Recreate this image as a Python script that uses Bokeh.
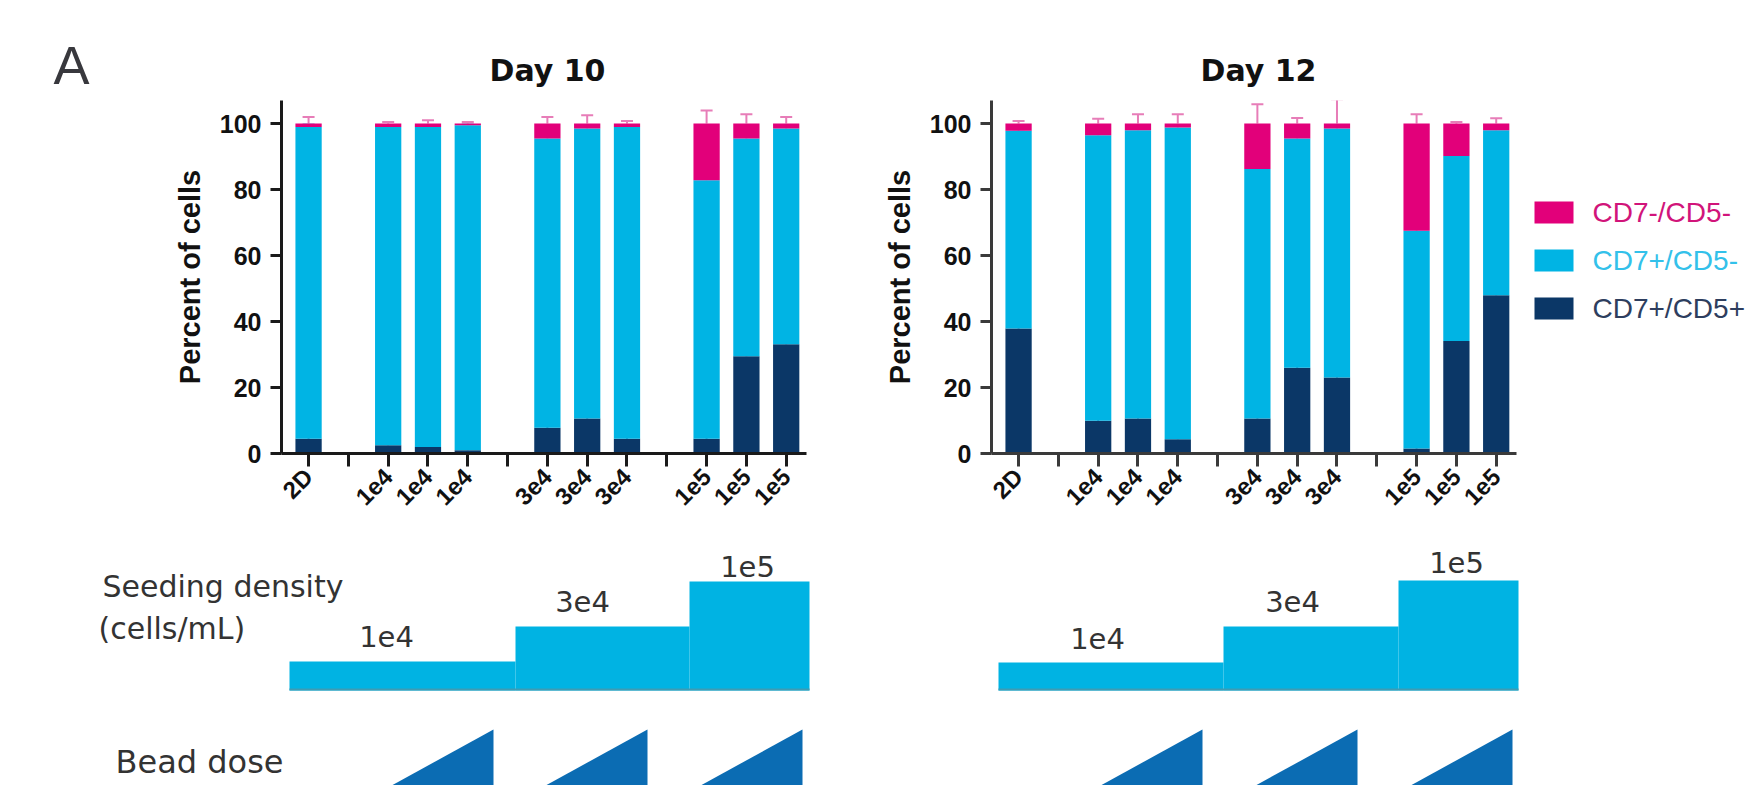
import math
from bokeh.plotting import figure
from bokeh.models import Range1d, FixedTicker, ColumnDataSource, Whisker, TeeHead
from bokeh.layouts import row, column
from bokeh.embed import file_html
from bokeh.resources import INLINE
from bokeh.core.properties import value

# ---------------- data ----------------
tick_labels = ["2D", "", "1e4", "1e4", "1e4", "", "3e4", "3e4", "3e4", "", "1e5", "1e5", "1e5"]
series_names = ["CD7-/CD5-", "CD7+/CD5-", "CD7+/CD5+"]   # legend order (top to bottom)
panel_titles = ["Day 10", "Day 12"]

# Day 10 (percent of cells) for the 10 conditions
d10_cd7p_cd5p = [4.5, 2.5, 2.0, 1.0, 7.8, 10.6, 4.5, 4.5, 29.5, 33.1]
d10_cd7p_cd5n = [94.5, 96.5, 97.0, 98.5, 87.7, 87.9, 94.5, 78.3, 66.0, 65.4]
d10_cd7n_cd5n = [1.0, 1.0, 1.0, 0.5, 4.5, 1.5, 1.0, 17.2, 4.5, 1.5]
d10_sd_cd7p_cd5p = [3.1, 2.0, 1.2, 0.5, 2.2, 3.0, 1.5, 0.8, 3.3, 2.9]
d10_sd_cd7p_cd5n = [0.8, 0.5, 0.5, 0.3, 1.0, 0.8, 0.5, 5.0, 1.5, 0.8]
d10_sd_cd7n_cd5n = [2.0, 0.5, 1.0, 0.5, 2.0, 2.5, 0.8, 4.0, 2.8, 2.0]

# Day 12
d12_cd7p_cd5p = [37.9, 9.9, 10.6, 4.3, 10.6, 26.0, 23.0, 1.5, 34.1, 48.0]
d12_cd7p_cd5n = [59.9, 86.6, 87.4, 94.5, 75.6, 69.5, 75.5, 66.0, 56.1, 50.0]
d12_cd7n_cd5n = [2.2, 3.5, 2.0, 1.2, 13.8, 4.5, 1.5, 32.5, 9.8, 2.0]
d12_sd_cd7p_cd5p = [0.5, 3.0, 4.1, 3.4, 1.0, 5.9, 8.3, 1.8, 4.4, 0.5]
d12_sd_cd7p_cd5n = [0.5, 1.0, 0.5, 0.5, 8.2, 1.0, 0.5, 4.8, 6.1, 0.5]
d12_sd_cd7n_cd5n = [0.8, 1.5, 2.8, 2.8, 5.9, 1.7, 7.4, 2.8, 0.5, 1.6]

seeding_labels = ["1e4", "3e4", "1e5"]

# ---------------- styles ----------------
PINK = "#E2007A"
CYAN = "#00B4E4"
NAVY = "#0B3767"
WH_PINK = "#E77DB8"
WH_CYAN = "#8DD6EE"
WH_NAVY = "#3C63A3"
STEP_CYAN = "#00B3E3"
TRI_BLUE = "#0B6CB3"
TEXT_GREY = "#333333"
LEGEND_TEXT = ["#D1147A", "#33C1EA", "#2E3E5E"]

TOP_STRIP = 100         # height of the strip holding the panel letter and titles
ROW_H = 440             # height of the chart row
FRAME_TOP = 100         # page y of the chart frames
FRAME_BOTTOM = 453
FRAME_W = 525
B_TOP = FRAME_TOP - TOP_STRIP
B_BOTTOM = TOP_STRIP + ROW_H - FRAME_BOTTOM
Y_MAX = 107.0

bar_slots = [i for i, t in enumerate(tick_labels) if t]


def blank(width, height, xr, yr, **kw):
    p = figure(width=width, height=height, x_range=Range1d(*xr), y_range=Range1d(*yr),
               toolbar_location=None, output_backend="svg", x_axis_type=None, y_axis_type=None,
               title_location=None, **kw)
    p.outline_line_color = None
    return p


def make_panel(navy, cyan, pink, sd_navy, sd_cyan, sd_pink, width, left, axis_color):
    p = figure(width=width, height=ROW_H, x_range=Range1d(-0.68, 12.51), y_range=Range1d(0, Y_MAX),
               toolbar_location=None, output_backend="svg", title_location=None,
               min_border_left=left, min_border_right=width - left - FRAME_W,
               min_border_top=B_TOP, min_border_bottom=B_BOTTOM)
    top1 = list(navy)
    top2 = [a + b for a, b in zip(navy, cyan)]
    top3 = [a + b for a, b in zip(top2, pink)]
    src = ColumnDataSource(dict(x=bar_slots, b0=[0] * len(navy), t1=top1, t2=top2, t3=top3))
    bw = 0.66
    p.vbar(x="x", bottom="b0", top="t1", width=bw, fill_color=NAVY, line_color=None, source=src)
    p.vbar(x="x", bottom="t1", top="t2", width=bw, fill_color=CYAN, line_color=None, source=src)
    p.vbar(x="x", bottom="t2", top="t3", width=bw, fill_color=PINK, line_color=None, source=src)

    for tops, sds, col in ((top1, sd_navy, WH_NAVY), (top2, sd_cyan, WH_CYAN), (top3, sd_pink, WH_PINK)):
        ws = ColumnDataSource(dict(x=bar_slots, lo=tops, hi=[t + s for t, s in zip(tops, sds)]))
        w = Whisker(source=ws, base="x", lower="lo", upper="hi", dimension="height",
                    line_color=col, line_width=2, lower_head=None,
                    upper_head=TeeHead(size=12, line_color=col, line_width=2))
        p.add_layout(w)

    p.xgrid.visible = False
    p.ygrid.visible = False
    p.outline_line_color = None

    for ax in (p.xaxis[0], p.yaxis[0]):
        ax.axis_line_width = 3
        ax.axis_line_color = axis_color
        ax.major_tick_line_width = 3
        ax.major_tick_line_color = axis_color
        ax.major_tick_in = 0
        ax.minor_tick_line_color = None
        ax.major_label_text_font = "Liberation Sans"
        ax.major_label_text_font_style = "bold"
        ax.major_label_text_color = "#111111"

    p.xaxis.ticker = FixedTicker(ticks=list(range(len(tick_labels))))
    p.xaxis.major_label_overrides = {i: t for i, t in enumerate(tick_labels)}
    p.xaxis.major_label_orientation = math.pi / 4
    p.xaxis.major_tick_out = 13
    p.xaxis.major_label_text_font_size = "24px"
    p.xaxis.major_label_standoff = 6

    p.yaxis.ticker = FixedTicker(ticks=[0, 20, 40, 60, 80, 100])
    p.yaxis.major_tick_out = 11
    p.yaxis.major_label_text_font_size = "25px"
    p.yaxis.major_label_standoff = 9
    p.yaxis.axis_label = "Percent of cells"
    p.yaxis.axis_label_text_font = "Liberation Sans"
    p.yaxis.axis_label_text_font_style = "bold"
    p.yaxis.axis_label_text_font_size = "29px"
    p.yaxis.axis_label_text_color = "#111111"
    p.yaxis.axis_label_standoff = 11
    return p


# ---- top strip: panel letter + panel titles (page coordinates) ----
figT = blank(1754, TOP_STRIP, (0, 1754), (TOP_STRIP, 0), min_border=0)
figT.text(x=[53], y=[64.5], text=["A"], text_font=value("Liberation Sans"), text_font_size=value("54px"),
          text_color="#38383D", text_align="left", text_baseline="middle")
figT.text(x=[547, 1258], y=[69.5, 69.5], text=panel_titles, text_font=value("DejaVu Sans"),
          text_font_style="bold", text_font_size=value("30px"), text_color="#111111",
          text_align="center", text_baseline="middle")

# ---- chart row ----
fig10 = make_panel(d10_cd7p_cd5p, d10_cd7p_cd5n, d10_cd7n_cd5n,
                   d10_sd_cd7p_cd5p, d10_sd_cd7p_cd5n, d10_sd_cd7n_cd5n, 852, 281, "#1A1A1A")
fig12 = make_panel(d12_cd7p_cd5p, d12_cd7p_cd5n, d12_cd7n_cd5n,
                   d12_sd_cd7p_cd5p, d12_sd_cd7p_cd5n, d12_sd_cd7n_cd5n, 674, 139, "#3A3A3A")

# legend (page coordinates inside an aligned frame)
figL = blank(228, ROW_H, (1526, 1754), (FRAME_BOTTOM, FRAME_TOP),
             min_border_left=0, min_border_right=0, min_border_top=B_TOP, min_border_bottom=B_BOTTOM)
leg_y = [212 + 48 * i for i in range(len(series_names))]
figL.rect(x=[1553.5] * 3, y=leg_y, width=39, height=22, fill_color=[PINK, CYAN, NAVY], line_color=None)
figL.text(x=[1592] * 3, y=leg_y, text=series_names, text_font=value("Liberation Sans"),
          text_font_size=value("28px"), text_color=LEGEND_TEXT,
          text_align="left", text_baseline="middle")

# ---- bottom schematic (page coordinates) ----
figB = blank(1754, 245, (0, 1754), (785, 540), min_border=0)
stairs = [
    dict(edges=[289, 515, 689, 809], tops=[661, 626, 581],
         lab_x=[386, 582, 747], lab_y=[636, 601, 566], tri_right=[493, 647, 802]),
    dict(edges=[998, 1223, 1398, 1518], tops=[662, 626, 580],
         lab_x=[1097, 1292, 1456], lab_y=[638, 601, 562], tri_right=[1202, 1357, 1512]),
]
BASE = 690
TRI_TOP = 729
TRI_BOTTOM = 840
TRI_SLOPE = 0.55
for s in stairs:
    figB.quad(left=s["edges"][:-1], right=s["edges"][1:], top=s["tops"], bottom=[BASE] * 3,
              fill_color=STEP_CYAN, line_color=None)
    figB.segment(x0=[s["edges"][0]], y0=[BASE - 1], x1=[s["edges"][-1]], y1=[BASE - 1],
                 line_color="#3E9CB4", line_width=2)
    figB.text(x=s["lab_x"], y=s["lab_y"], text=seeding_labels, text_font=value("DejaVu Sans"),
              text_font_size=value("29px"), text_color=TEXT_GREY, text_align="center",
              text_baseline="middle")
    xs, ys = [], []
    for r in s["tri_right"]:
        xs.append([r, r, r - (TRI_BOTTOM - TRI_TOP) / TRI_SLOPE])
        ys.append([TRI_TOP, TRI_BOTTOM, TRI_BOTTOM])
    figB.patches(xs=xs, ys=ys, fill_color=TRI_BLUE, line_color=None)

figB.text(x=[102, 98, 115], y=[586, 628, 761],
          text=["Seeding density", "(cells/mL)", "Bead dose"], text_font=value("DejaVu Sans"),
          text_font_size=["30px", "30px", "32px"], text_color=TEXT_GREY, text_align="left",
          text_baseline="middle")

layout = column(figT, row(fig10, fig12, figL), figB)
open("out.html", "w").write(file_html(layout, INLINE))
